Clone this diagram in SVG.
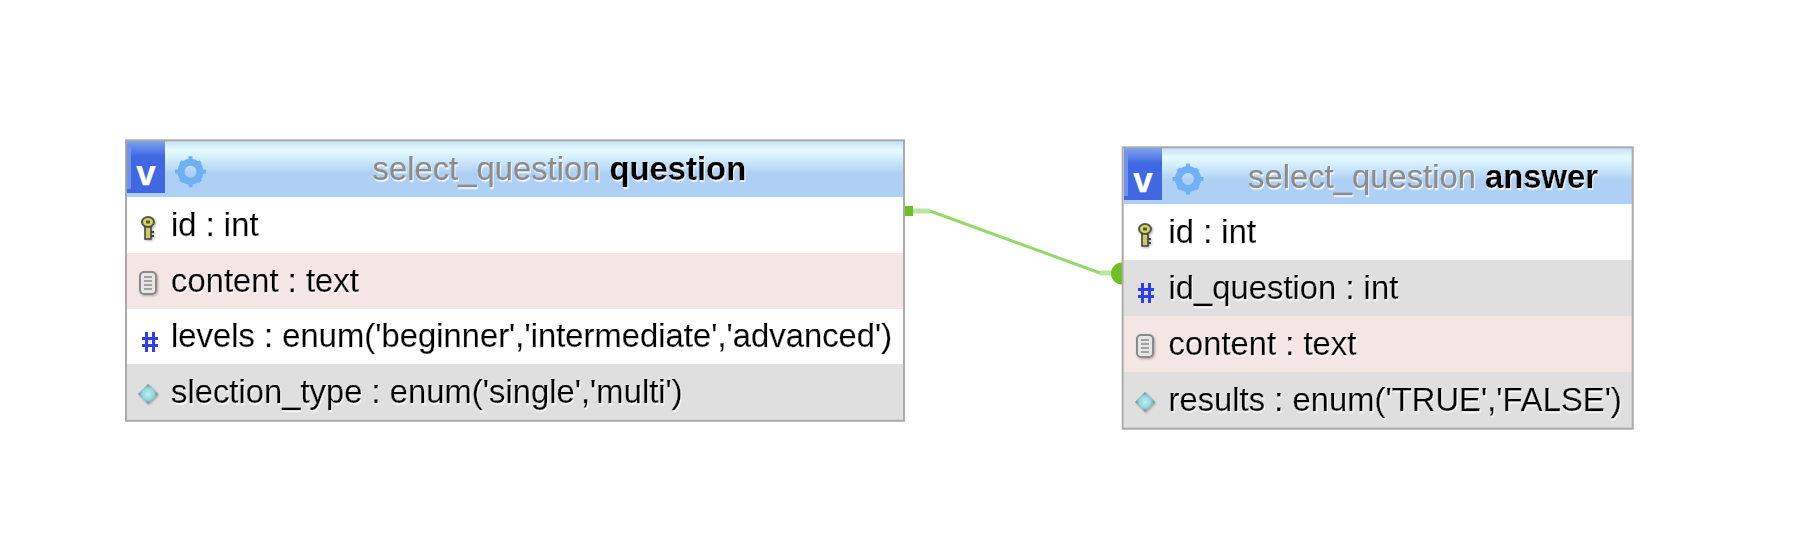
<svg xmlns="http://www.w3.org/2000/svg" width="1819" height="534" viewBox="0 0 1819 534">
<defs>
<linearGradient id="hd" x1="0" y1="0" x2="0" y2="1">
<stop offset="0" stop-color="#c4e0f8"/><stop offset="0.16" stop-color="#e6fbff"/><stop offset="0.3" stop-color="#d4eefc"/><stop offset="0.58" stop-color="#aed0f4"/><stop offset="1" stop-color="#aed0f4"/>
</linearGradient>
<linearGradient id="vb" x1="0" y1="0" x2="0" y2="1">
<stop offset="0" stop-color="#7fa2ee"/><stop offset="0.3" stop-color="#3f68e2"/><stop offset="1" stop-color="#3f68e2"/>
</linearGradient>
<radialGradient id="gem"><stop offset="0" stop-color="#b8f2f4"/><stop offset="0.6" stop-color="#8fd4dc"/><stop offset="1" stop-color="#6f8289"/></radialGradient>
<filter id="soft" x="-30%" y="-30%" width="170%" height="170%"><feGaussianBlur stdDeviation="0.7"/></filter>
<filter id="shade" x="-40%" y="-40%" width="190%" height="190%"><feDropShadow dx="1" dy="1" stdDeviation="1" flood-color="#000" flood-opacity="0.3"/></filter>
<filter id="lift" x="-5%" y="-10%" width="110%" height="130%"><feDropShadow dx="0.8" dy="1.6" stdDeviation="0.2" flood-color="#fff"/></filter>
<g id="gear" filter="url(#soft)"><circle r="9.500" fill="none" stroke="#6fb0f4" stroke-width="7"/><path d="M0-15.500V-10M0 15.500V10M-15.500 0H-10M15.500 0H10M-10-10L-7-7M10-10L7-7M-10 10L-7 7M10 10L7 7" stroke="#6fb0f4" stroke-width="4"/></g>
<g id="key" filter="url(#shade)"><ellipse cy="-6" rx="6" ry="5" fill="#d8d850" stroke="#555" stroke-width="2"/><rect x="-2" y="-7.500" width="4" height="3" fill="#555"/><path d="M-3-1H3V11H-3Z" fill="#d0c860" stroke="#444" stroke-width="1.600"/><path d="M3 4H6M3 8H6" stroke="#444" stroke-width="2"/></g>
<g id="doc" filter="url(#shade)"><rect x="-8" y="-11" width="16" height="22" rx="4" fill="#e6e6e6" stroke="#8a8a8a" stroke-width="2"/><path d="M-4-6h8M-4-2h8M-4 2h8M-4 6h8" stroke="#8a8a8a" stroke-width="1.600"/></g>
<g id="hash" filter="url(#soft)"><path d="M-3.500-10V10M3.500-10V10M-8-3.500H8M-8 3.500H8" stroke="#2f3cf0" stroke-width="3" fill="none"/></g>
<g id="dia" filter="url(#shade)"><path d="M0-10L10 0L0 10L-10 0Z" fill="url(#gem)"/></g>
</defs>
<style>
text{font-family:"Liberation Sans",Arial,sans-serif;font-size:32.8px;fill:#000;stroke:#000;stroke-width:.25;filter:url(#lift)}
.s{fill:#8c8c8c;stroke:#8c8c8c}
.b{font-weight:bold}
.v{font-size:35px;font-weight:bold;fill:#fff;stroke:#fff;text-anchor:middle;filter:none}
.f{fill:none;stroke:#aaa;stroke-width:2}
.h{fill:url(#hd)}
.vb{fill:url(#vb)}
.w{fill:#fff}
.g{fill:#dfdfdf}
.p{fill:#f5e6e6}
</style>
<rect width="1819" height="534" fill="#fff"/>
<g id="connectors">
<path d="M912 211H930M1100 273H1115" fill="none" stroke="#b9e6a0" stroke-width="5"/>
<path d="M930 211L1100 273" fill="none" stroke="#93d96b" stroke-width="3"/>
<rect x="905" y="206" width="8" height="10" fill="#6cc025"/>
<path d="M1122 262.500A11 11 0 0 0 1122 284.500Z" fill="#6cc025"/>
</g>
<g id="table-question">
<rect class="h" x="127" y="141" width="776" height="56"/>
<rect class="vb" x="127" y="141" width="38" height="52"/>
<rect x="127" y="146" width="4" height="43" fill="#6f92ea"/>
<text class="v" x="146" y="185">v</text>
<use href="#gear" x="190.500" y="171.700"/>
<text x="372.500" y="180"><tspan class="s">select_question </tspan><tspan class="b">question</tspan></text>
<rect class="w" x="127" y="197" width="776" height="56"/>
<rect class="p" x="127" y="253" width="776" height="56"/>
<rect class="w" x="127" y="309" width="776" height="55"/>
<rect class="g" x="127" y="364" width="776" height="56"/>
<use href="#key" x="148" y="228"/><use href="#doc" x="148" y="283"/><use href="#hash" x="150" y="342"/><use href="#dia" x="148" y="394"/>
<text x="171" y="236">id : int</text>
<text x="171" y="291.500">content : text</text>
<text x="171" y="347">levels : enum('beginner','intermediate','advanced')</text>
<text x="171" y="403.300">slection_type : enum('single','multi')</text>
<rect class="f" x="126" y="140.300" width="778" height="280.500"/>
</g>
<g id="table-answer">
<rect class="h" x="1124" y="148" width="508" height="56"/>
<rect class="vb" x="1124" y="148" width="38" height="52"/>
<rect x="1124" y="153" width="4" height="43" fill="#6f92ea"/>
<text class="v" x="1143" y="192">v</text>
<use href="#gear" x="1188" y="179"/>
<text x="1248" y="187.500"><tspan class="s">select_question </tspan><tspan class="b">answer</tspan></text>
<rect class="w" x="1124" y="204" width="508" height="56"/>
<rect class="g" x="1124" y="260" width="508" height="56"/>
<rect class="p" x="1124" y="316" width="508" height="56"/>
<rect class="g" x="1124" y="372" width="508" height="56"/>
<use href="#key" x="1145" y="235"/><use href="#hash" x="1146" y="293"/><use href="#doc" x="1145" y="346"/><use href="#dia" x="1145" y="402"/>
<text x="1168.500" y="243">id : int</text>
<text x="1168.500" y="299">id_question : int</text>
<text x="1168.500" y="355">content : text</text>
<text x="1168.500" y="410.700">results : enum('TRUE','FALSE')</text>
<rect class="f" x="1122.700" y="147.300" width="510" height="281.400"/>
</g>
</svg>
